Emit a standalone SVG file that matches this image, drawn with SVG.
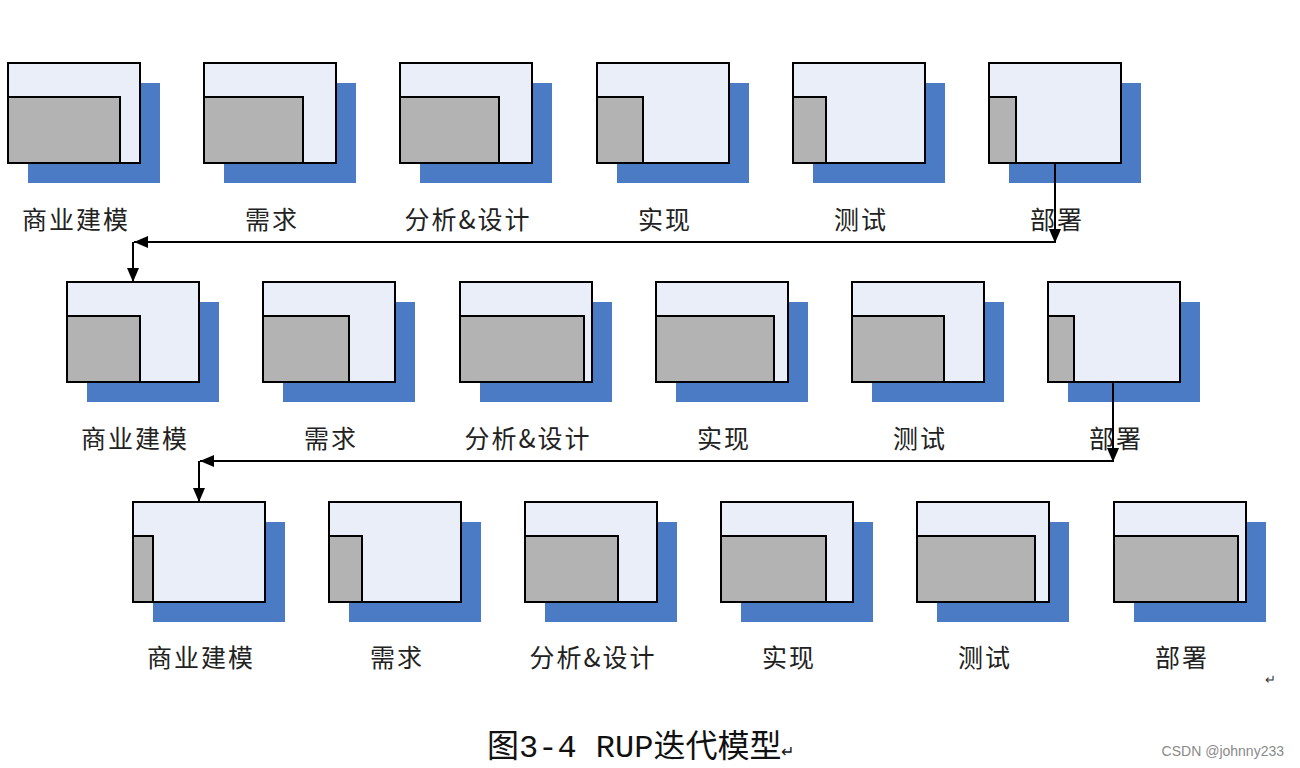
<svg xmlns="http://www.w3.org/2000/svg" width="1300" height="768" viewBox="0 0 1300 768">
<style>
.sh{fill:#4a7bc4}
.bx{fill:#e9eef8;stroke:#000;stroke-width:2}
.gr{fill:#b3b3b3;stroke:#000;stroke-width:2}
.lb{font-family:"Noto Sans CJK SC","Noto Sans CJK JP",sans-serif;font-size:25px;fill:#222;text-anchor:middle;letter-spacing:2px}
.cn{stroke:#000;stroke-width:2;fill:none;marker-end:url(#ah)}
</style>
<defs>
<marker id="ah" markerUnits="userSpaceOnUse" markerWidth="14" markerHeight="12" refX="14" refY="6" orient="auto">
<path d="M0,0 L14,6 L0,12 z" fill="#000"/>
</marker>
</defs>
<rect width="1300" height="768" fill="#fff"/>
<!-- Row 1 -->
<g id="r1n1"><rect class="sh" x="28" y="83" width="132" height="100"/><rect class="bx" x="8" y="63" width="132" height="100"/><rect class="gr" x="8" y="97" width="112" height="66"/><text class="lb" x="76" y="229">商业建模</text></g>
<g id="r1n2"><rect class="sh" x="224" y="83" width="132" height="100"/><rect class="bx" x="204" y="63" width="132" height="100"/><rect class="gr" x="204" y="97" width="99" height="66"/><text class="lb" x="272" y="229">需求</text></g>
<g id="r1n3"><rect class="sh" x="420" y="83" width="132" height="100"/><rect class="bx" x="400" y="63" width="132" height="100"/><rect class="gr" x="400" y="97" width="99" height="66"/><text class="lb" x="468" y="229">分析&amp;设计</text></g>
<g id="r1n4"><rect class="sh" x="617" y="83" width="132" height="100"/><rect class="bx" x="597" y="63" width="132" height="100"/><rect class="gr" x="597" y="97" width="46" height="66"/><text class="lb" x="665" y="229">实现</text></g>
<g id="r1n5"><rect class="sh" x="813" y="83" width="132" height="100"/><rect class="bx" x="793" y="63" width="132" height="100"/><rect class="gr" x="793" y="97" width="33" height="66"/><text class="lb" x="861" y="229">测试</text></g>
<g id="r1n6"><rect class="sh" x="1009" y="83" width="132" height="100"/><rect class="bx" x="989" y="63" width="132" height="100"/><rect class="gr" x="989" y="97" width="27" height="66"/><text class="lb" x="1057" y="229">部署</text></g>
<!-- Row 2 -->
<g id="r2n1"><rect class="sh" x="87" y="302" width="132" height="100"/><rect class="bx" x="67" y="282" width="132" height="100"/><rect class="gr" x="67" y="316" width="73" height="66"/><text class="lb" x="135" y="448">商业建模</text></g>
<g id="r2n2"><rect class="sh" x="283" y="302" width="132" height="100"/><rect class="bx" x="263" y="282" width="132" height="100"/><rect class="gr" x="263" y="316" width="86" height="66"/><text class="lb" x="331" y="448">需求</text></g>
<g id="r2n3"><rect class="sh" x="480" y="302" width="132" height="100"/><rect class="bx" x="460" y="282" width="132" height="100"/><rect class="gr" x="460" y="316" width="124" height="66"/><text class="lb" x="528" y="448">分析&amp;设计</text></g>
<g id="r2n4"><rect class="sh" x="676" y="302" width="132" height="100"/><rect class="bx" x="656" y="282" width="132" height="100"/><rect class="gr" x="656" y="316" width="118" height="66"/><text class="lb" x="724" y="448">实现</text></g>
<g id="r2n5"><rect class="sh" x="872" y="302" width="132" height="100"/><rect class="bx" x="852" y="282" width="132" height="100"/><rect class="gr" x="852" y="316" width="92" height="66"/><text class="lb" x="920" y="448">测试</text></g>
<g id="r2n6"><rect class="sh" x="1068" y="302" width="132" height="100"/><rect class="bx" x="1048" y="282" width="132" height="100"/><rect class="gr" x="1048" y="316" width="26" height="66"/><text class="lb" x="1116" y="448">部署</text></g>
<!-- Row 3 -->
<g id="r3n1"><rect class="sh" x="153" y="522" width="132" height="100"/><rect class="bx" x="133" y="502" width="132" height="100"/><rect class="gr" x="133" y="536" width="20" height="66"/><text class="lb" x="201" y="667">商业建模</text></g>
<g id="r3n2"><rect class="sh" x="349" y="522" width="132" height="100"/><rect class="bx" x="329" y="502" width="132" height="100"/><rect class="gr" x="329" y="536" width="33" height="66"/><text class="lb" x="397" y="667">需求</text></g>
<g id="r3n3"><rect class="sh" x="545" y="522" width="132" height="100"/><rect class="bx" x="525" y="502" width="132" height="100"/><rect class="gr" x="525" y="536" width="93" height="66"/><text class="lb" x="593" y="667">分析&amp;设计</text></g>
<g id="r3n4"><rect class="sh" x="741" y="522" width="132" height="100"/><rect class="bx" x="721" y="502" width="132" height="100"/><rect class="gr" x="721" y="536" width="105" height="66"/><text class="lb" x="789" y="667">实现</text></g>
<g id="r3n5"><rect class="sh" x="937" y="522" width="132" height="100"/><rect class="bx" x="917" y="502" width="132" height="100"/><rect class="gr" x="917" y="536" width="118" height="66"/><text class="lb" x="985" y="667">测试</text></g>
<g id="r3n6"><rect class="sh" x="1134" y="522" width="132" height="100"/><rect class="bx" x="1114" y="502" width="132" height="100"/><rect class="gr" x="1114" y="536" width="124" height="66"/><text class="lb" x="1182" y="667">部署</text></g>
<!-- Connectors -->
<g id="connectors">
<line class="cn" x1="1055" y1="163" x2="1055" y2="243"/>
<line class="cn" x1="1055" y1="242" x2="134" y2="242"/>
<line class="cn" x1="133" y1="242" x2="133" y2="282"/>
<line class="cn" x1="1113" y1="382" x2="1113" y2="462"/>
<line class="cn" x1="1113" y1="461" x2="200" y2="461"/>
<line class="cn" x1="199" y1="461" x2="199" y2="502"/>
</g>
<text x="1270" y="684" font-family="'Liberation Sans',sans-serif" font-size="13" fill="#333" text-anchor="middle">↵</text>
<text x="487" y="757" font-size="32" fill="#111" font-family="'Liberation Mono','Noto Sans CJK SC',monospace"><tspan font-family="'Noto Sans CJK SC',sans-serif">图</tspan>3-4 RUP<tspan font-family="'Noto Sans CJK SC',sans-serif">迭代模型</tspan><tspan font-size="16" font-family="'Liberation Sans',sans-serif">↵</tspan></text>
<text x="1284" y="756" font-family="'Liberation Sans',Arial,sans-serif" font-size="14" fill="#8a8a8a" text-anchor="end">CSDN @johnny233</text>
</svg>
